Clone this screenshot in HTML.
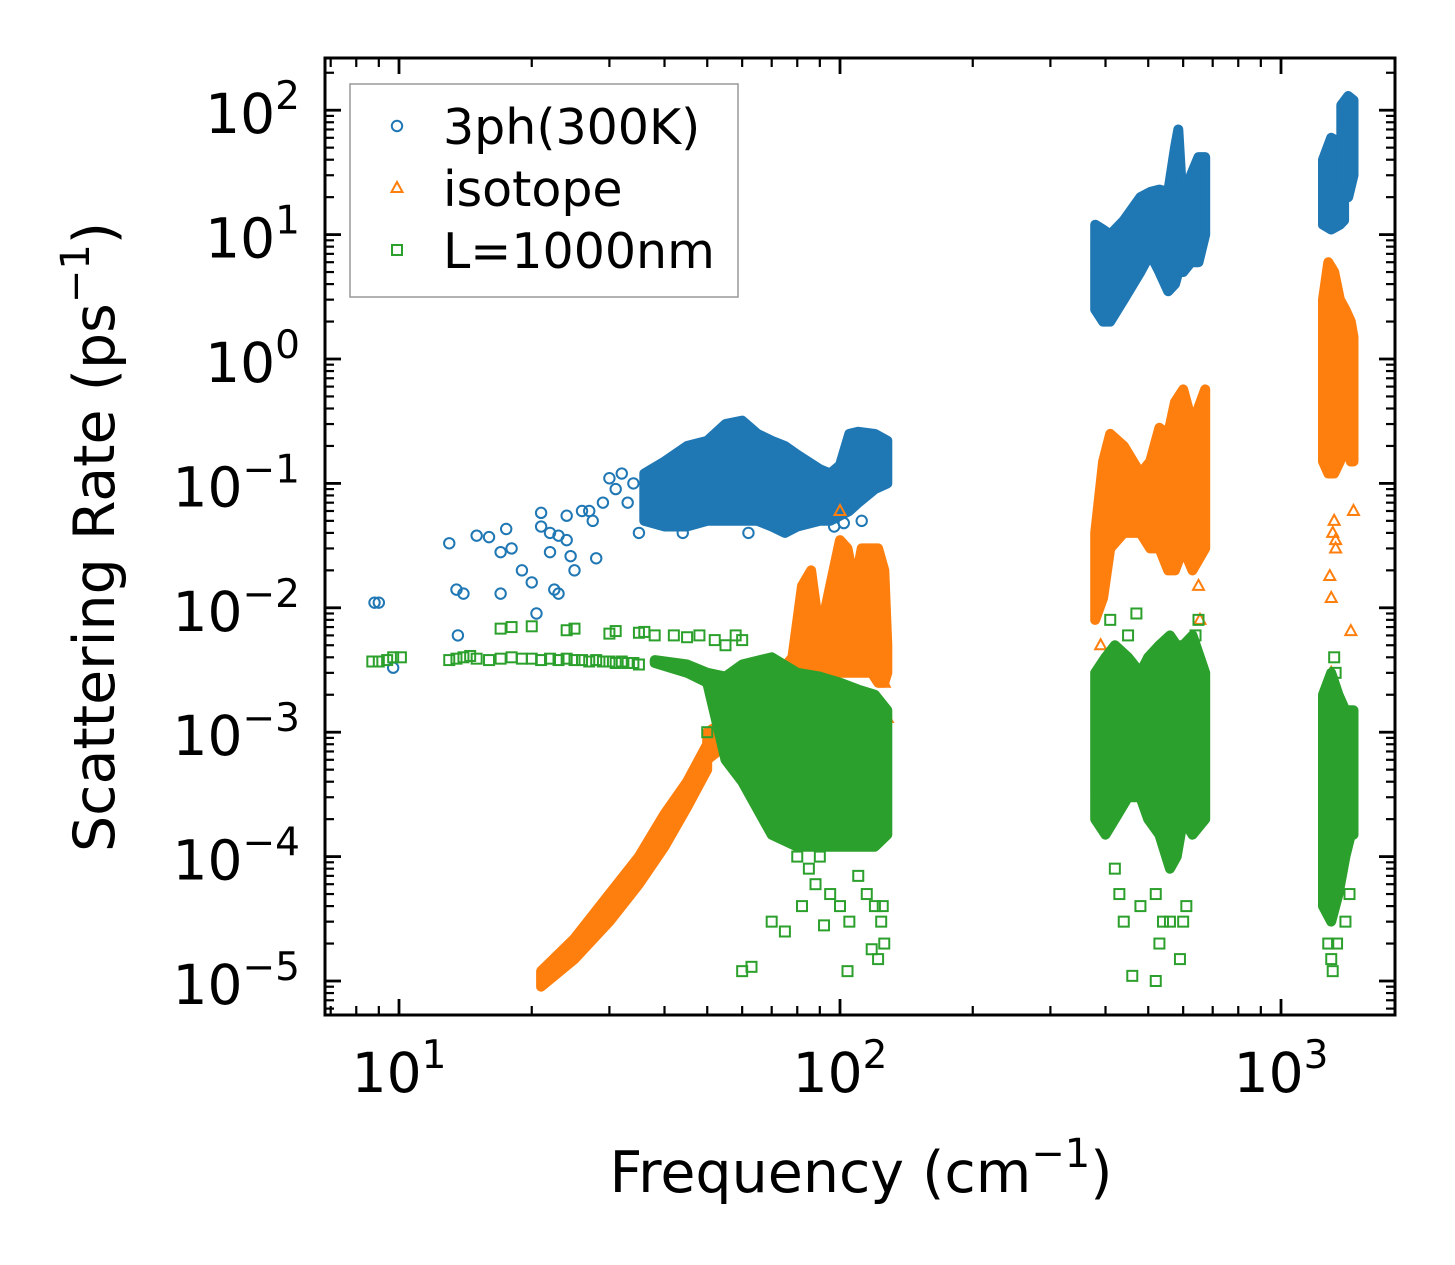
<!DOCTYPE html>
<html><head><meta charset="utf-8"><style>
html,body{margin:0;padding:0;background:#fff;}
svg{display:block;font-family:"DejaVu Sans","Liberation Sans",sans-serif;}
</style></head><body>
<svg id="chart" width="1455" height="1265" viewBox="0 0 1455 1265">
<defs><clipPath id="pc"><rect x="325" y="58" width="1070" height="957"/></clipPath></defs>
<g id="marks" clip-path="url(#pc)"></g>
<g id="axes"></g>
<g id="legend"></g>
</svg>
<script>
// ---- data ----
const blueFreqA=[36,40,45,50,55,60,65,70,75,80,90,95,100,105,110,120,128];
const blueUpA=[0.12,0.15,0.2,0.22,0.3,0.32,0.25,0.22,0.2,0.17,0.13,0.12,0.14,0.25,0.26,0.25,0.22];
const blueLoA=[0.05,0.045,0.045,0.05,0.05,0.05,0.05,0.045,0.04,0.045,0.05,0.05,0.055,0.06,0.07,0.09,0.1];
const blueFreqB=[379,395,410,440,480,505,530,555,575,585,600,625,650,673];
const blueUpB=[12,11,10,13,20,22,23,22,50,70,15,30,42,42];
const blueLoB=[2.5,2,2,3,5,7,5,3.5,4,5,5,6,6,10];
const blueFreqC1=[1245,1300,1360,1390];
const blueUpC1=[40,60,55,50];
const blueLoC1=[12,11,12,13];
const blueFreqC2=[1370,1420,1460];
const blueUpC2=[110,130,120];
const blueLoC2=[25,20,30];
const bluePtsF=[8.8,9.0,9.7,13,13.5,14,13.6,15,16,17,17.5,18,17,19,20,20.5,21,21,22,22,23,24,24,25,26,27,28,29,30,31,32,33,34,35,24.5,27.5,22.5,44,23,62,97,102,112];
const bluePtsR=[0.011,0.011,0.0033,0.033,0.014,0.013,0.006,0.038,0.037,0.028,0.043,0.03,0.013,0.02,0.016,0.009,0.058,0.045,0.028,0.04,0.013,0.055,0.035,0.02,0.06,0.06,0.025,0.07,0.11,0.09,0.12,0.07,0.1,0.04,0.026,0.05,0.014,0.04,0.038,0.04,0.045,0.048,0.05];

const orgFreqL=[21,25,30,35,40,45,50];
const orgUpL=[1.2e-5,2.2e-5,5e-5,1e-4,2.2e-4,4e-4,8e-4];
const orgLoL=[9e-6,1.5e-5,3e-5,6e-5,1.2e-4,2.5e-4,5e-4];
const orgFreqA=[50,60,70,78,82,86,90,95,100,104,108,112,118,122,126,128];
const orgUpA=[1e-3,1.5e-3,2.5e-3,4e-3,0.015,0.02,0.006,0.015,0.035,0.03,0.015,0.03,0.03,0.03,0.02,0.005];
const orgLoA=[6e-4,1e-3,1.5e-3,2e-3,3e-3,3e-3,3e-3,3e-3,3e-3,3e-3,3e-3,3e-3,3e-3,2.5e-3,2.5e-3,3e-3];
const orgFreqB=[379,395,410,440,480,505,530,555,575,600,630,673];
const orgUpB=[0.04,0.15,0.25,0.2,0.12,0.15,0.28,0.25,0.45,0.57,0.3,0.57];
const orgLoB=[0.008,0.012,0.03,0.04,0.04,0.03,0.03,0.02,0.02,0.03,0.02,0.03];
const orgFreqC=[1245,1280,1320,1360,1400,1440,1460];
const orgUpC=[3,6,5,3,2.5,2,1.5];
const orgLoC=[0.15,0.12,0.12,0.15,0.2,0.15,0.15];
const orgPtsF=[100,128,126,385,390,640,650,655,1290,1300,1310,1320,1330,1440,1460,1300,1330];
const orgPtsR=[0.06,0.0013,0.0025,0.0025,0.005,0.03,0.015,0.008,0.018,0.012,0.04,0.05,0.035,0.0065,0.06,0.003,0.03];

const grnFreqA=[38,45,50,55,60,70,80,90,100,110,120,128];
const grnUpA=[0.0038,0.0035,0.003,0.0028,0.0035,0.004,0.003,0.0028,0.0025,0.0022,0.002,0.0015];
const grnLoA=[0.0036,0.003,0.0025,0.0006,0.0004,0.00015,0.00012,0.00012,0.00012,0.00012,0.00012,0.00015];
const grnFreqB=[379,400,420,450,480,500,530,560,580,600,630,673];
const grnUpB=[3e-3,4e-3,5e-3,4e-3,3e-3,4e-3,5e-3,6e-3,5e-3,5e-3,6e-3,3e-3];
const grnLoB=[2e-4,1.5e-4,2e-4,3e-4,3e-4,2e-4,1.5e-4,8e-5,1e-4,2e-4,1.5e-4,2e-4];
const grnFreqC=[1245,1300,1350,1400,1440,1460];
const grnUpC=[2e-3,3e-3,2e-3,1.5e-3,1.5e-3,1.5e-3];
const grnLoC=[4e-5,3e-5,5e-5,1e-4,1.5e-4,1.5e-4];
const grnPtsF=[8.7,9.0,9.4,9.7,10.1,13,13.5,14,14.5,15,16,17,18,19,20,21,22,23,24,25,26,27,28,29,30,31,32,33,34,35,17,18,20,24,25,30,31,35,36,38,42,45,48,52,55,58,60,50,55,62,65,70,72,75,80,85,88,90,95,100,105,110,115,120,124,126,60,63,70,75,82,92,104,118,122,125,400,420,430,440,460,480,520,540,410,450,470,560,590,600,610,640,650,520,530,1260,1280,1300,1310,1320,1330,1340,1400,1430];
const grnPtsR=[0.0037,0.0037,0.0038,0.004,0.004,0.0038,0.0039,0.004,0.0041,0.0039,0.0038,0.0039,0.004,0.0039,0.0039,0.0038,0.0039,0.0038,0.0039,0.0038,0.0038,0.0037,0.0038,0.0037,0.0037,0.0036,0.0037,0.0036,0.0036,0.0035,0.0068,0.007,0.0071,0.0066,0.0068,0.0062,0.0065,0.0063,0.0064,0.006,0.006,0.0058,0.006,0.0055,0.005,0.006,0.0055,0.001,0.0008,0.0007,0.0005,0.0003,0.0002,0.00015,0.0001,0.00008,0.00006,0.0001,0.00005,0.00004,0.00003,0.00007,0.00005,0.00004,0.00003,0.00002,0.000012,0.000013,0.00003,0.000025,0.00004,0.000028,0.000012,0.000018,0.000015,0.00004,0.0006,0.00008,0.00005,0.00003,0.000011,0.00004,0.00005,0.00003,0.008,0.006,0.009,0.00003,0.000015,0.00003,0.00004,0.006,0.008,0.00001,0.00002,0.00005,0.00002,0.000015,0.000012,0.004,0.003,0.00002,0.00003,0.00005];

const xTicks=[10,100,1000];
const xTickExp=["1","2","3"];
const yTicks=[1e2,1e1,1,1e-1,1e-2,1e-3,1e-4,1e-5];
const yTickExp=["2","1","0","−1","−2","−3","−4","−5"];

// ---- scales ----
const X=f=>399+441*(Math.log10(f)-1);
const Y=r=>359-124.4*Math.log10(r);
const NS="http://www.w3.org/2000/svg";
const marks=document.getElementById('marks'), axes=document.getElementById('axes'), legend=document.getElementById('legend');
function mk(tag,attrs,parent){const e=document.createElementNS(NS,tag);for(const k in attrs)e.setAttribute(k,attrs[k]);parent.appendChild(e);return e;}
const C={b:'#1f77b4',o:'#ff7f0e',g:'#2ca02c'};

function area(fr,up,lo,col,name){
  let d='M'+fr.map((f,i)=>X(f).toFixed(1)+','+Y(up[i]).toFixed(1)).join('L');
  for(let i=fr.length-1;i>=0;i--) d+='L'+X(fr[i]).toFixed(1)+','+Y(lo[i]).toFixed(1);
  d+='Z';
  const p=mk('path',{d:d,fill:col,stroke:col,'stroke-width':10,'stroke-linejoin':'round'},marks);
  
  
}
function marker(type,x,y,col,parent){
  let e;
  if(type==='c') e=mk('circle',{cx:x,cy:y,r:5.2,fill:'none',stroke:col,'stroke-width':2},parent);
  else if(type==='t') e=mk('path',{d:`M${x},${y-6}L${x+5.5},${y+4}L${x-5.5},${y+4}Z`,fill:'none',stroke:col,'stroke-width':2},parent);
  else e=mk('rect',{x:x-5,y:y-5,width:10,height:10,fill:'none',stroke:col,'stroke-width':2},parent);
  return e;
}
function pts(fr,rs,type,col,name){
  fr.forEach((f,i)=>{
    const e=marker(type,X(f),Y(rs[i]),col,marks);
    
    
  });
}
area(blueFreqA,blueUpA,blueLoA,C.b,'3ph-cluster-low');
area(blueFreqB,blueUpB,blueLoB,C.b,'3ph-cluster-mid');
area(blueFreqC1,blueUpC1,blueLoC1,C.b,'3ph-cluster-high');
area(blueFreqC2,blueUpC2,blueLoC2,C.b,'3ph-cluster-top');
pts(bluePtsF,bluePtsR,'c',C.b,'3ph-point');
area(orgFreqL,orgUpL,orgLoL,C.o,'isotope-acoustic-branch');
area(orgFreqA,orgUpA,orgLoA,C.o,'isotope-cluster-low');
area(orgFreqB,orgUpB,orgLoB,C.o,'isotope-cluster-mid');
area(orgFreqC,orgUpC,orgLoC,C.o,'isotope-cluster-high');
pts(orgPtsF,orgPtsR,'t',C.o,'isotope-point');
area(grnFreqA,grnUpA,grnLoA,C.g,'boundary-cluster-low');
area(grnFreqB,grnUpB,grnLoB,C.g,'boundary-cluster-mid');
area(grnFreqC,grnUpC,grnLoC,C.g,'boundary-cluster-high');
pts(grnPtsF,grnPtsR,'s',C.g,'boundary-point');

// ---- axes ----
const L=325,R=1395,T=58,B=1015;
const frame=mk('rect',{x:L,y:T,width:R-L,height:B-T,fill:'none',stroke:'#000','stroke-width':3},axes);


function tickLine(x1,y1,x2,y2,w){mk('line',{x1:x1,y1:y1,x2:x2,y2:y2,stroke:'#000','stroke-width':w},axes);}
for(let dec=0;dec<=3;dec++){
  for(let m=1;m<=9;m++){
    const f=m*Math.pow(10,dec); const x=X(f);
    if(x<L||x>R) continue;
    const len=m===1?16:9, w=m===1?2.8:2.2;
    tickLine(x,B,x,B-len,w); tickLine(x,T,x,T+len,w);
  }
}
for(let dec=-6;dec<=2;dec++){
  for(let m=1;m<=9;m++){
    const r=m*Math.pow(10,dec); const y=Y(r);
    if(y<T||y>B) continue;
    const len=m===1?16:9, w=m===1?2.8:2.2;
    tickLine(L,y,L+len,y,w); tickLine(R,y,R-len,y,w);
  }
}
xTicks.forEach((f,i)=>{
  const t=mk('text',{x:X(f),y:1092,'font-size':55,'text-anchor':'middle',fill:'#000'},axes);
  t.innerHTML='10<tspan dy="-24" font-size="39">'+xTickExp[i]+'</tspan>';
  
  
});
yTicks.forEach((r,i)=>{
  const t=mk('text',{x:300,y:Y(r)+23,'font-size':55,'text-anchor':'end',fill:'#000'},axes);
  t.innerHTML='10<tspan dy="-24" font-size="39">'+yTickExp[i]+'</tspan>';
  
  
});
const xt=mk('text',{x:861,y:1192,'font-size':57,'text-anchor':'middle',fill:'#000'},axes);
xt.innerHTML='Frequency (cm<tspan dy="-25" font-size="40">−1</tspan><tspan dy="25">)</tspan>';


const yt=mk('text',{x:0,y:0,'font-size':57,'text-anchor':'middle',fill:'#000',transform:'translate(114,537) rotate(-90)'},axes);
yt.innerHTML='Scattering Rate (ps<tspan dy="-25" font-size="40">−1</tspan><tspan dy="25">)</tspan>';



// ---- legend ----
const lb=mk('rect',{x:350,y:84,width:388,height:213,fill:'#fff',stroke:'#999','stroke-width':1.5},legend);


const legLabels=['3ph(300K)','isotope','L=1000nm'];
const legTypes=['c','t','s'];
const legCols=[C.b,C.o,C.g];
legLabels.forEach((lab,i)=>{
  const y=126+i*62;
  const g=mk('g',{},legend);
  
  
  marker(legTypes[i],397,y,legCols[i],g);
  const t=mk('text',{x:443,y:y+18,'font-size':49,fill:'#000'},g);
  t.textContent=lab;
});
</script>
</body></html>
